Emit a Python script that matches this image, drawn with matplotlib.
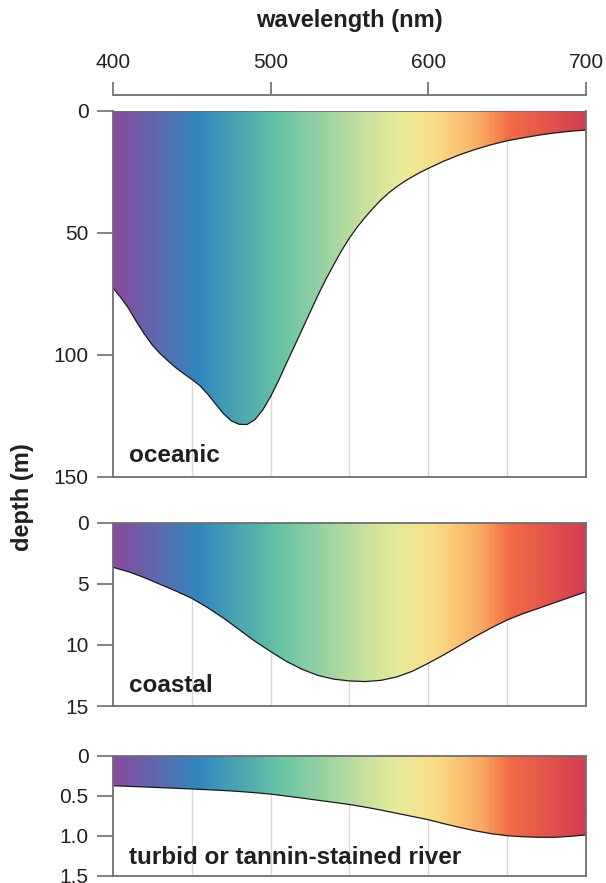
import matplotlib
matplotlib.use("Agg")
import matplotlib.pyplot as plt
import numpy as np
from matplotlib.colors import LinearSegmentedColormap

plt.rcParams['font.family'] = ['Liberation Sans', 'DejaVu Sans']

# wavelength (nm) / depth (m)
oceanic_wl = [400, 405, 410, 415, 420, 425, 430, 435, 440, 445, 450, 455, 460,
              465, 470, 475, 480, 485, 490, 495, 500, 505, 510, 515, 520, 525,
              530, 535, 540, 545, 550, 555, 560, 565, 570, 575, 580, 585, 590,
              595, 600, 610, 620, 630, 640, 650, 660, 670, 680, 690, 700]
oceanic_depth = [72.5, 76.5, 81, 86.5, 91.5, 96, 99.5, 102.5, 105.3, 107.7, 110,
                 112.5, 116, 120, 124, 127, 128.4, 128.5, 126.5, 122.5, 117,
                 110.5, 103.4, 96.5, 89.5, 82.5, 75.5, 69, 63, 57.2, 52,
                 47.5, 43.5, 39.8, 36.4, 33.5, 31, 28.8, 26.9, 25.1, 23.5, 20.5,
                 17.9, 15.7, 13.8, 12.2, 11, 9.9, 9, 8.3, 7.8]

coastal_wl = [400, 410, 420, 430, 440, 450, 460, 470, 480, 490, 500, 510, 520,
              530, 540, 550, 560, 570, 580, 590, 600, 610, 620, 630, 640, 650,
              660, 670, 680, 690, 700]
coastal_depth = [3.65, 4.02, 4.5, 5.05, 5.6, 6.19, 6.95, 7.8, 8.75, 9.7, 10.55,
                 11.35, 12.0, 12.5, 12.8, 12.95, 13.0, 12.9, 12.62, 12.15, 11.5,
                 10.8, 10.05, 9.3, 8.6, 7.96, 7.45, 7.0, 6.55, 6.1, 5.65]

river_wl = [400, 410, 420, 430, 440, 450, 460, 470, 480, 490, 500, 510, 520,
            530, 540, 550, 560, 570, 580, 590, 600, 610, 620, 630, 640, 650,
            660, 670, 680, 690, 700]
river_depth = [0.375, 0.383, 0.391, 0.399, 0.407, 0.416, 0.425, 0.435, 0.447,
               0.462, 0.48, 0.505, 0.53, 0.557, 0.583, 0.61, 0.643, 0.68, 0.72,
               0.76, 0.80, 0.85, 0.897, 0.94, 0.975, 1.0, 1.013, 1.02, 1.02,
               1.008, 0.99]

panel_names = ["oceanic", "coastal", "turbid or tannin-stained river"]
panel_ticks = [[0, 50, 100, 150], [0, 5, 10, 15], [0, 0.5, 1.0, 1.5]]
panel_ticklabels = [["0", "50", "100", "150"], ["0", "5", "10", "15"],
                    ["0", "0.5", "1.0", "1.5"]]
wl_ticks = [400, 500, 600, 700]

spectrum = LinearSegmentedColormap.from_list("spec", [
    (0.0, "#8b4a9f"), (0.18, "#3187bd"), (0.35, "#66c3a5"),
    (0.5, "#b7dca0"), (0.6, "#e6ea9a"), (0.68, "#fbdf88"),
    (0.78, "#f9aa62"), (0.84, "#f26b45"), (1.0, "#d43d50")])

W, H = 606, 883
fig = plt.figure(figsize=(W / 100, H / 100), dpi=100)

# axes boxes in pixels: top, bottom
boxes = [(111, 477), (522.7, 706), (755.7, 875.7)]
left, right = 113, 586
label_base = [462.3, 691.7, 864]

spine_col = "#6d6e71"
text_col = "#231f20"
curves = [(oceanic_wl, oceanic_depth), (coastal_wl, coastal_depth), (river_wl, river_depth)]

for i, (top, bot) in enumerate(boxes):
    ax = fig.add_axes([left / W, 1 - bot / H, (right - left) / W, (bot - top) / H])
    wl, depth = curves[i]
    ymax = panel_ticks[i][-1]

    grad = np.linspace(0, 1, 400).reshape(1, -1)
    im = ax.imshow(grad, extent=[400, 700, ymax, 0], aspect='auto', cmap=spectrum, zorder=2)
    poly = ax.fill_between(wl, 0, depth, facecolor='none', edgecolor='none')
    im.set_clip_path(poly.get_paths()[0], transform=ax.transData)
    ax.plot(wl, depth, color='#1a1a1a', lw=0.9, zorder=3, solid_joinstyle='round')

    for g in [450, 500, 550, 600, 650]:
        ax.axvline(g, color='#d9d9d9', lw=1.0, zorder=1)

    ax.set_xlim(400, 700)
    ax.set_ylim(ymax, 0)
    ax.set_yticks(panel_ticks[i])
    ax.set_yticklabels(panel_ticklabels[i])
    ax.tick_params(axis='y', length=11.5, width=1.2, color=spine_col, pad=6,
                   labelsize=15, labelcolor=text_col)
    for s in ax.spines.values():
        s.set_color(spine_col)
        s.set_linewidth(1.3)
        s.set_zorder(4)

    if i == 0:
        ax.axhline(0, color=spine_col, lw=1.3, zorder=4)
        ax.spines['top'].set_position(('outward', 11.5))
        ax.xaxis.tick_top()
        ax.set_xticks(wl_ticks)
        ax.tick_params(axis='x', length=9.4, width=1.2, color=spine_col, pad=7,
                       labelsize=15, labelcolor=text_col)
    else:
        ax.set_xticks([])

    fig.text(129 / W, 1 - label_base[i] / H, panel_names[i], fontsize=17.5,
             fontweight='bold', color=text_col, ha='left', va='baseline', zorder=5)

fig.text((left + right) / 2 / W, 1 - 20 / H, "wavelength (nm)", fontsize=17,
         fontweight='bold', color=text_col, ha='center', va='center')
fig.text(23 / W, 1 - 497.5 / H, "depth (m)", fontsize=17, fontweight='bold',
         color=text_col, rotation=90, ha='center', va='center')

fig.savefig("out.png", dpi=100)
